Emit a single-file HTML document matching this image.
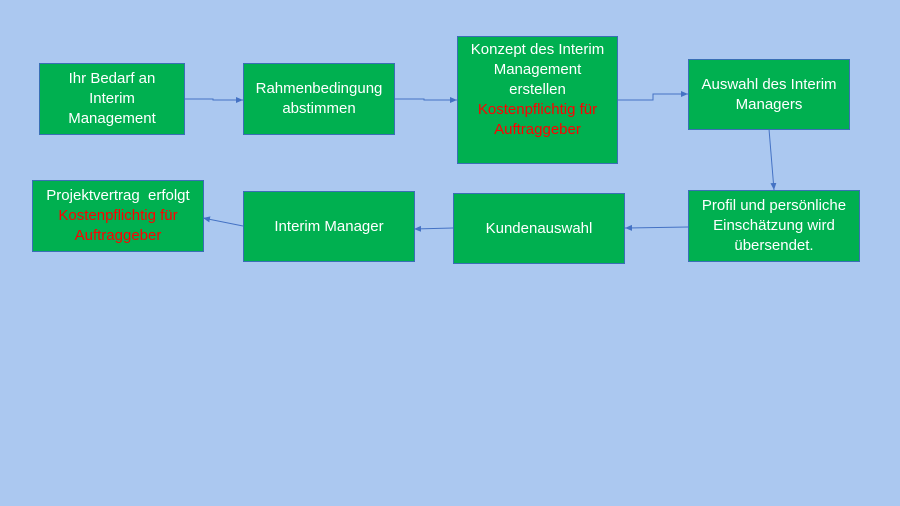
<!DOCTYPE html>
<html><head><meta charset="utf-8"><style>
html,body{margin:0;padding:0}
body{width:900px;height:506px;background:#abc8f0;position:relative;overflow:hidden;font-family:"Liberation Sans",sans-serif}
.b{position:absolute;box-sizing:border-box;background:#00b050;border:1px solid #3a6fb5;color:#fff;font-size:15px;line-height:20px;text-align:center;display:flex;flex-direction:column;justify-content:center;white-space:nowrap}
.r{color:#ff0000}
svg{position:absolute;left:0;top:0}
</style></head><body>
<svg width="900" height="506">
<defs><marker id="a" markerWidth="8" markerHeight="8" refX="7" refY="4" orient="auto" markerUnits="userSpaceOnUse"><path d="M0,1 L7,4 L0,7 z" fill="#4472c4"/></marker></defs>
<g stroke="#4472c4" stroke-width="1" fill="none" marker-end="url(#a)">
<polyline points="184,99 213,99 213,100 243,100"/>
<polyline points="395,99 424,99 424,100 457,100"/>
<polyline points="617,100 653,100 653,94 688,94"/>
<line x1="769" y1="129" x2="774" y2="190"/>
<line x1="688" y1="227" x2="625" y2="228"/>
<line x1="453" y1="228" x2="414" y2="229"/>
<line x1="243" y1="226" x2="203" y2="218"/>
</g></svg>
<div class="b" style="left:39px;top:63px;width:146px;height:72px">Ihr Bedarf an<br>Interim<br>Management</div>
<div class="b" style="left:243px;top:63px;width:152px;height:72px">Rahmenbedingung<br>abstimmen</div>
<div class="b" style="left:457px;top:36px;width:161px;height:128px;justify-content:flex-start;padding-top:3px">Konzept des Interim<br>Management<br>erstellen<br><span class="r">Kostenpflichtig für<br>Auftraggeber</span></div>
<div class="b" style="left:688px;top:59px;width:162px;height:71px">Auswahl des Interim<br>Managers</div>
<div class="b" style="left:688px;top:190px;width:172px;height:72px">Profil und persönliche<br>Einschätzung wird<br>übersendet.</div>
<div class="b" style="left:453px;top:193px;width:172px;height:71px">Kundenauswahl</div>
<div class="b" style="left:243px;top:191px;width:172px;height:71px">Interim Manager</div>
<div class="b" style="left:32px;top:180px;width:172px;height:72px">Projektvertrag&nbsp; erfolgt<br><span class="r">Kostenpflichtig für<br>Auftraggeber</span></div>
</body></html>
